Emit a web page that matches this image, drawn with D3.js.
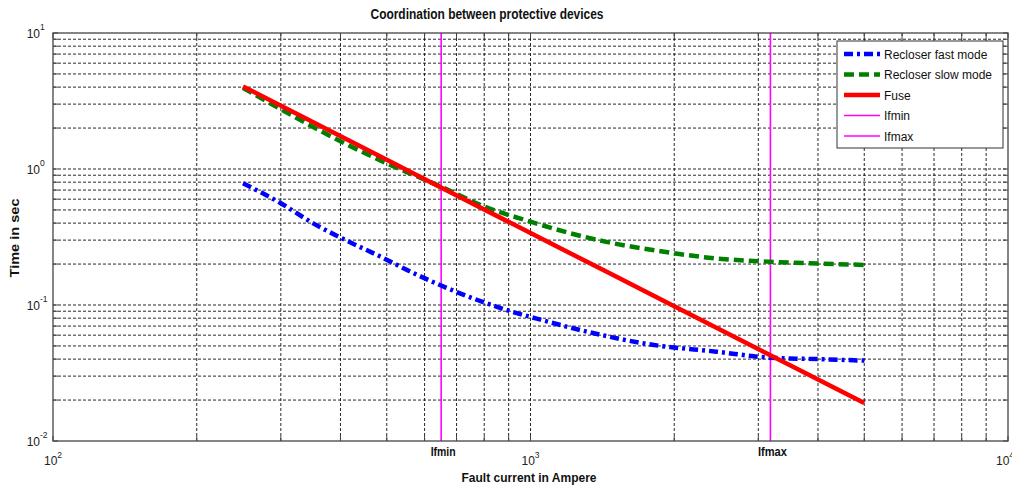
<!DOCTYPE html>
<html>
<head>
<meta charset="utf-8">
<script src="https://cdn.jsdelivr.net/npm/d3@7"></script>
<style>
  body { margin: 0; background: #fff; }
  text { font-family: "Liberation Sans", Arial, sans-serif; }
</style>
</head>
<body>
<div id="chart"></div>
<script>
// Values
const currentFast = [250, 300, 350, 410, 485, 570, 650, 890, 1050, 1330, 1800, 2450, 3170, 4000, 5000];
const timeFast = [0.785, 0.56, 0.40, 0.30, 0.227, 0.171, 0.139, 0.092, 0.078, 0.063, 0.051, 0.0454, 0.041, 0.040, 0.039];

const currentSlow = [250, 300, 400, 500, 650, 800, 1000, 1200, 1450, 1850, 2450, 3170, 4000, 5000];
const timeSlow = [3.95, 2.75, 1.6, 1.1, 0.74, 0.53, 0.41, 0.34, 0.29, 0.25, 0.22, 0.208, 0.202, 0.197];

const currentFuse = [250, 500, 1000, 2000, 5000];
const timeFuse = [4.05, 1.17, 0.338, 0.098, 0.019];

const ifmin = 650;
const ifmax = 3180;

const xMajor = [100, 1000, 10000];
const xExp = ["2", "3", "4"];
const yMajor = [0.01, 0.1, 1, 10];
const yExp = ["-2", "-1", "0", "1"];

const legendNames = ["Recloser fast mode", "Recloser slow mode", "Fuse", "Ifmin", "Ifmax"];

const W = 1012, H = 489;
const margin = { top: 33, right: 4, bottom: 48, left: 53 };
const width = W - margin.left - margin.right;
const height = H - margin.top - margin.bottom;

const svg = d3.select("#chart").append("svg")
    .attr("width", W)
    .attr("height", H)
    .style("display", "block");

svg.append("rect").attr("width", W).attr("height", H).attr("fill", "#fff");

const g = svg.append("g").attr("transform", `translate(${margin.left},${margin.top})`);

const x = d3.scaleLog().domain([100, 10000]).range([0, width]);
const y = d3.scaleLog().domain([0.01, 10]).range([height, 0]);

// grid (all decades, 1..9)
const xGrid = x.ticks().filter(v => v > 100 && v < 10000);
const yGrid = y.ticks().filter(v => v > 0.01 && v < 10);

g.append("g").selectAll("line").data(xGrid).join("line")
    .attr("x1", d => x(d)).attr("x2", d => x(d))
    .attr("y1", 0).attr("y2", height)
    .attr("stroke", "#111").attr("stroke-width", 0.9)
    .attr("stroke-dasharray", "3,2");

g.append("g").selectAll("line").data(yGrid).join("line")
    .attr("y1", d => y(d)).attr("y2", d => y(d))
    .attr("x1", 0).attr("x2", width)
    .attr("stroke", "#111").attr("stroke-width", 0.9)
    .attr("stroke-dasharray", "3,2");

// ticks inward on all four sides
const tickLen = 5;
const ticksG = g.append("g").attr("stroke", "#444").attr("stroke-width", 1);
x.ticks().forEach(v => {
    ticksG.append("line").attr("x1", x(v)).attr("x2", x(v)).attr("y1", height).attr("y2", height - tickLen);
    ticksG.append("line").attr("x1", x(v)).attr("x2", x(v)).attr("y1", 0).attr("y2", tickLen);
});
y.ticks().forEach(v => {
    ticksG.append("line").attr("y1", y(v)).attr("y2", y(v)).attr("x1", 0).attr("x2", tickLen);
    ticksG.append("line").attr("y1", y(v)).attr("y2", y(v)).attr("x1", width).attr("x2", width - tickLen);
});

// curves
const line = d3.line()
    .x(d => x(d[0]))
    .y(d => y(d[1]))
    .curve(d3.curveMonotoneX);

const curves = [
    { pts: d3.zip(currentFast, timeFast), color: "#0000ff", dash: "9,4,3,4" },
    { pts: d3.zip(currentSlow, timeSlow), color: "#008000", dash: "10,5" },
    { pts: d3.zip(currentFuse, timeFuse), color: "#ff0000", dash: null }
];

// vertical current markers
[ifmin, ifmax].forEach(v => {
    g.append("line")
        .attr("x1", x(v)).attr("x2", x(v))
        .attr("y1", 0).attr("y2", height)
        .attr("stroke", "#ff00ff").attr("stroke-width", 1.6);
});

curves.forEach(c => {
    g.append("path")
        .datum(c.pts)
        .attr("d", line)
        .attr("fill", "none")
        .attr("stroke", c.color)
        .attr("stroke-width", 4.5)
        .attr("stroke-dasharray", c.dash);
});

// axes box
g.append("rect")
    .attr("width", width).attr("height", height)
    .attr("fill", "none").attr("stroke", "#444").attr("stroke-width", 1.3);

// y tick labels
yMajor.forEach((v, i) => {
    g.append("text")
        .attr("x", -13).attr("y", y(v) + 5)
        .attr("text-anchor", "end")
        .attr("font-size", 12).attr("fill", "#222")
        .text("10");
    g.append("text")
        .attr("x", -13).attr("y", y(v) - 3)
        .attr("font-size", 8.5).attr("fill", "#222")
        .text(yExp[i]);
});

// x tick labels
xMajor.forEach((v, i) => {
    const t = g.append("text")
        .attr("x", i === 2 ? x(v) - 3 : x(v)).attr("y", height + 24)
        .attr("text-anchor", "middle")
        .attr("font-size", 12).attr("fill", "#222");
    t.append("tspan").text("10");
    t.append("tspan").attr("dy", -7).attr("font-size", 8.5).text(xExp[i]);
});

[[ifmin, "Ifmin"], [ifmax, "Ifmax"]].forEach(([v, s]) => {
    g.append("text")
        .attr("x", x(v) + 2).attr("y", height + 15)
        .attr("text-anchor", "middle")
        .attr("font-size", 12.5).attr("font-weight", "bold").attr("fill", "#111")
        .attr("textLength", s === "Ifmin" ? 25 : 29).attr("lengthAdjust", "spacingAndGlyphs")
        .text(s);
});

// title and axis labels
svg.append("text")
    .attr("x", 487).attr("y", 19)
    .attr("text-anchor", "middle")
    .attr("font-size", 14).attr("font-weight", "bold").attr("fill", "#111")
    .attr("textLength", 233).attr("lengthAdjust", "spacingAndGlyphs")
    .text("Coordination  between protective devices");

svg.append("text")
    .attr("x", 529).attr("y", 482)
    .attr("text-anchor", "middle")
    .attr("font-size", 13).attr("font-weight", "bold").attr("fill", "#111")
    .attr("textLength", 135).attr("lengthAdjust", "spacingAndGlyphs")
    .text("Fault current in Ampere");

svg.append("text")
    .attr("transform", "translate(19,238) rotate(-90)")
    .attr("text-anchor", "middle")
    .attr("font-size", 13).attr("font-weight", "bold").attr("fill", "#111")
    .attr("textLength", 79).attr("lengthAdjust", "spacingAndGlyphs")
    .text("Time in sec");

// legend
const legend = svg.append("g").attr("transform", "translate(837,41)");
legend.append("rect")
    .attr("width", 166).attr("height", 107)
    .attr("fill", "#fff").attr("stroke", "#333").attr("stroke-width", 1);

const legendStyles = [
    { color: "#0000ff", dash: "9,4,3,4", w: 4.5 },
    { color: "#008000", dash: "10,5", w: 4.5 },
    { color: "#ff0000", dash: null, w: 4.5 },
    { color: "#ff00ff", dash: null, w: 1.6 },
    { color: "#ff00ff", dash: null, w: 1.6 }
];
const ly = d3.scalePoint().domain(legendNames).range([13, 95]);

legendNames.forEach((name, i) => {
    const s = legendStyles[i];
    legend.append("line")
        .attr("x1", 7).attr("x2", 43)
        .attr("y1", ly(name)).attr("y2", ly(name))
        .attr("stroke", s.color).attr("stroke-width", s.w)
        .attr("stroke-dasharray", s.dash);
    legend.append("text")
        .attr("x", 47).attr("y", ly(name) + 4.5)
        .attr("font-size", 12).attr("fill", "#111")
        .text(name);
});
</script>
</body>
</html>
